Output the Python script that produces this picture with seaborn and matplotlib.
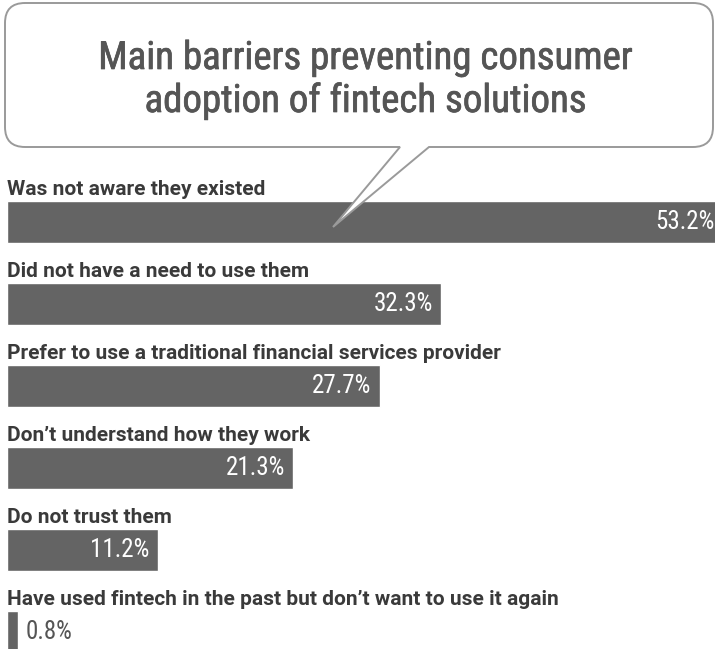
import matplotlib
matplotlib.use("Agg")
import matplotlib.pyplot as plt
from matplotlib import font_manager
from matplotlib import patheffects
from matplotlib.path import Path
from matplotlib.patches import PathPatch
import pandas as pd
import seaborn as sns

# ---- data -------------------------------------------------------------
reasons = [
    "Was not aware they existed",
    "Did not have a need to use them",
    "Prefer to use a traditional financial services provider",
    "Don\u2019t understand how they work",
    "Do not trust them",
    "Have used fintech in the past but don\u2019t want to use it again",
]
shares = [53.2, 32.3, 27.7, 21.3, 11.2, 0.8]
value_labels = ["53.2%", "32.3%", "27.7%", "21.3%", "11.2%", "0.8%"]
title_lines = ["Main barriers preventing consumer", "adoption of fintech solutions"]

df = pd.DataFrame({"reason": reasons, "share": shares})


def pick_family(candidates):
    for name in candidates:
        try:
            font_manager.findfont(name, fallback_to_default=False)
            return name
        except Exception:
            continue
    return "DejaVu Sans"


NARROW = pick_family(["Liberation Sans Narrow", "Roboto Condensed",
                      "DejaVu Sans Condensed", "Roboto"])
LABEL = pick_family(["Roboto", "Liberation Sans", "DejaVu Sans"])

sns.set_theme(style="white")
plt.rcParams["font.family"] = [NARROW, "DejaVu Sans"]

W, H = 715, 649
fig = plt.figure(figsize=(W / 100, H / 100), dpi=100)
fig.patch.set_facecolor("white")

# ---- bars ---------------------------------------------------------------
ax = fig.add_axes([0, 0, 1, 1])
sns.barplot(data=df, x="share", y="reason", orient="h", color="#646464",
            saturation=1, width=0.512, ax=ax)

px_per_unit = 13.45          # horizontal pixels per percentage point
x0_px = 7
ax.set_xlim(-x0_px / px_per_unit, (W - x0_px) / px_per_unit)
row_px = 82
first_px = 222
ax.set_ylim((H - first_px) / row_px, -first_px / row_px)
ax.axis("off")

half = 0.512 / 2
gap = 8 / px_per_unit
for i, (name, val, lab) in enumerate(zip(reasons, shares, value_labels)):
    ax.text(0, i - half - 6 / row_px, name, ha="left", va="baseline",
            fontsize=15, fontweight="bold", color="#3a3a3a",
            family=[LABEL, "DejaVu Sans"])
    if val > 5:
        ax.text(val - gap, i, lab, ha="right", va="center",
                fontsize=18, color="white")
    else:
        ax.text(val + gap, i, lab, ha="left", va="center",
                fontsize=18, color="#555555")

# ---- speech bubble with title --------------------------------------------
ov = fig.add_axes([0, 0, 1, 1], zorder=3)
ov.set_xlim(0, W)
ov.set_ylim(H, 0)
ov.axis("off")
ov.patch.set_alpha(0)

L, R, T, B, r = 5, 713, 3, 147, 20
tail_l, tail_r, tip = 400, 429, (333, 227)
verts = [
    (L + r, T), (R - r, T), (R, T), (R, T + r),
    (R, B - r), (R, B), (R - r, B),
    (tail_r, B), tip, (tail_l, B),
    (L + r, B), (L, B), (L, B - r),
    (L, T + r), (L, T), (L + r, T),
    (L + r, T),
]
codes = [
    Path.MOVETO, Path.LINETO, Path.CURVE3, Path.CURVE3,
    Path.LINETO, Path.CURVE3, Path.CURVE3,
    Path.LINETO, Path.LINETO, Path.LINETO,
    Path.LINETO, Path.CURVE3, Path.CURVE3,
    Path.LINETO, Path.CURVE3, Path.CURVE3,
    Path.CLOSEPOLY,
]
ov.add_patch(PathPatch(Path(verts, codes), facecolor="white",
                       edgecolor="#9a9a9a", lw=1.4, joinstyle="miter"))

title_fx = [patheffects.withStroke(linewidth=0.5, foreground="#555555")]
ov.text(365, 69, title_lines[0], ha="center", va="baseline",
        fontsize=28, color="#555555", path_effects=title_fx)
ov.text(365, 112, title_lines[1], ha="center", va="baseline",
        fontsize=28, color="#555555", path_effects=title_fx)

fig.savefig("out.png", dpi=100, facecolor="white")
